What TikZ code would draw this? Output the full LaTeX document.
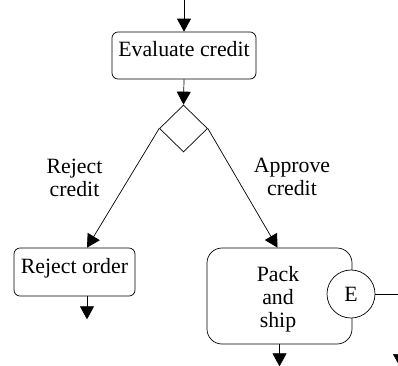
\documentclass[tikz,border=0pt]{standalone}
\usepackage{fontspec}
\setmainfont{Liberation Serif}
\usetikzlibrary{arrows.meta,shapes.geometric,calc}

\tikzset{
  flow/.style={draw=black, line width=0.7pt},
  arr/.style={flow, -{Triangle[length=13pt,width=14pt]}},
  action/.style={draw=black, line width=0.7pt, rounded corners=6pt, inner sep=0pt,
    text height=14pt, text depth=12pt},
  lbl/.style={align=center, inner sep=0pt},
}

\begin{document}
\begin{tikzpicture}[x=1pt, y=-1pt,
  every node/.style={font=\fontsize{21.8}{23}\selectfont}]
  \useasboundingbox (0,0) rectangle (398,365);

  % activities
  \node[action, minimum width=144pt, minimum height=47pt] (eval) at (184,55.5) {Evaluate credit};
  \node[draw=black, line width=0.7pt, diamond, minimum width=48pt, minimum height=47pt, inner sep=0pt] (dec) at (183.5,128.5) {};
  \node[action, minimum width=121pt, minimum height=48pt] (reject) at (74.5,272) {Reject order};
  \node[draw=black, line width=0.7pt, rounded corners=15pt, minimum width=145pt, minimum height=96pt,
    inner sep=0pt] (pack) at (279.5,296) {};
  \node[lbl] (packtxt) at (278,299) {Pack\\and\\ship};
  \node[circle, draw=black, fill=white, line width=0.7pt, minimum size=48pt, inner sep=0pt] (exc) at (351,294) {E};

  % guard labels
  \node[lbl] (rejlbl) at (74.5,177.5) {Reject\\credit};
  \node[lbl] (applbl) at (292,177) {Approve\\credit};

  % free ends
  \coordinate (start) at (184,0);
  \coordinate (rejin) at ($(reject.north)+(12.5,0)$);
  \coordinate (rejout) at ($(reject.south)+(12.5,0)$);
  \coordinate (rejend) at ($(rejout)+(0,23)$);
  \coordinate (packend) at ($(pack.south)+(0,22)$);
  \coordinate (excend) at (399,294);
  \coordinate (farstart) at (400,338);
  \coordinate (farend) at (400,367);

  % connectors
  \draw[arr] (start) -- (eval.north);
  \draw[arr] (eval.south) -- (dec.north);
  \draw[arr] (dec.west) -- (rejin);
  \draw[arr] (dec.east) -- ($(pack.north)+(-2,0)$);
  \draw[arr] (rejout) -- (rejend);
  \draw[arr] (pack.south) -- (packend);
  \draw[flow] (exc.east) -- (excend);
  \draw[arr] (farstart) -- (farend);
\end{tikzpicture}
\end{document}
